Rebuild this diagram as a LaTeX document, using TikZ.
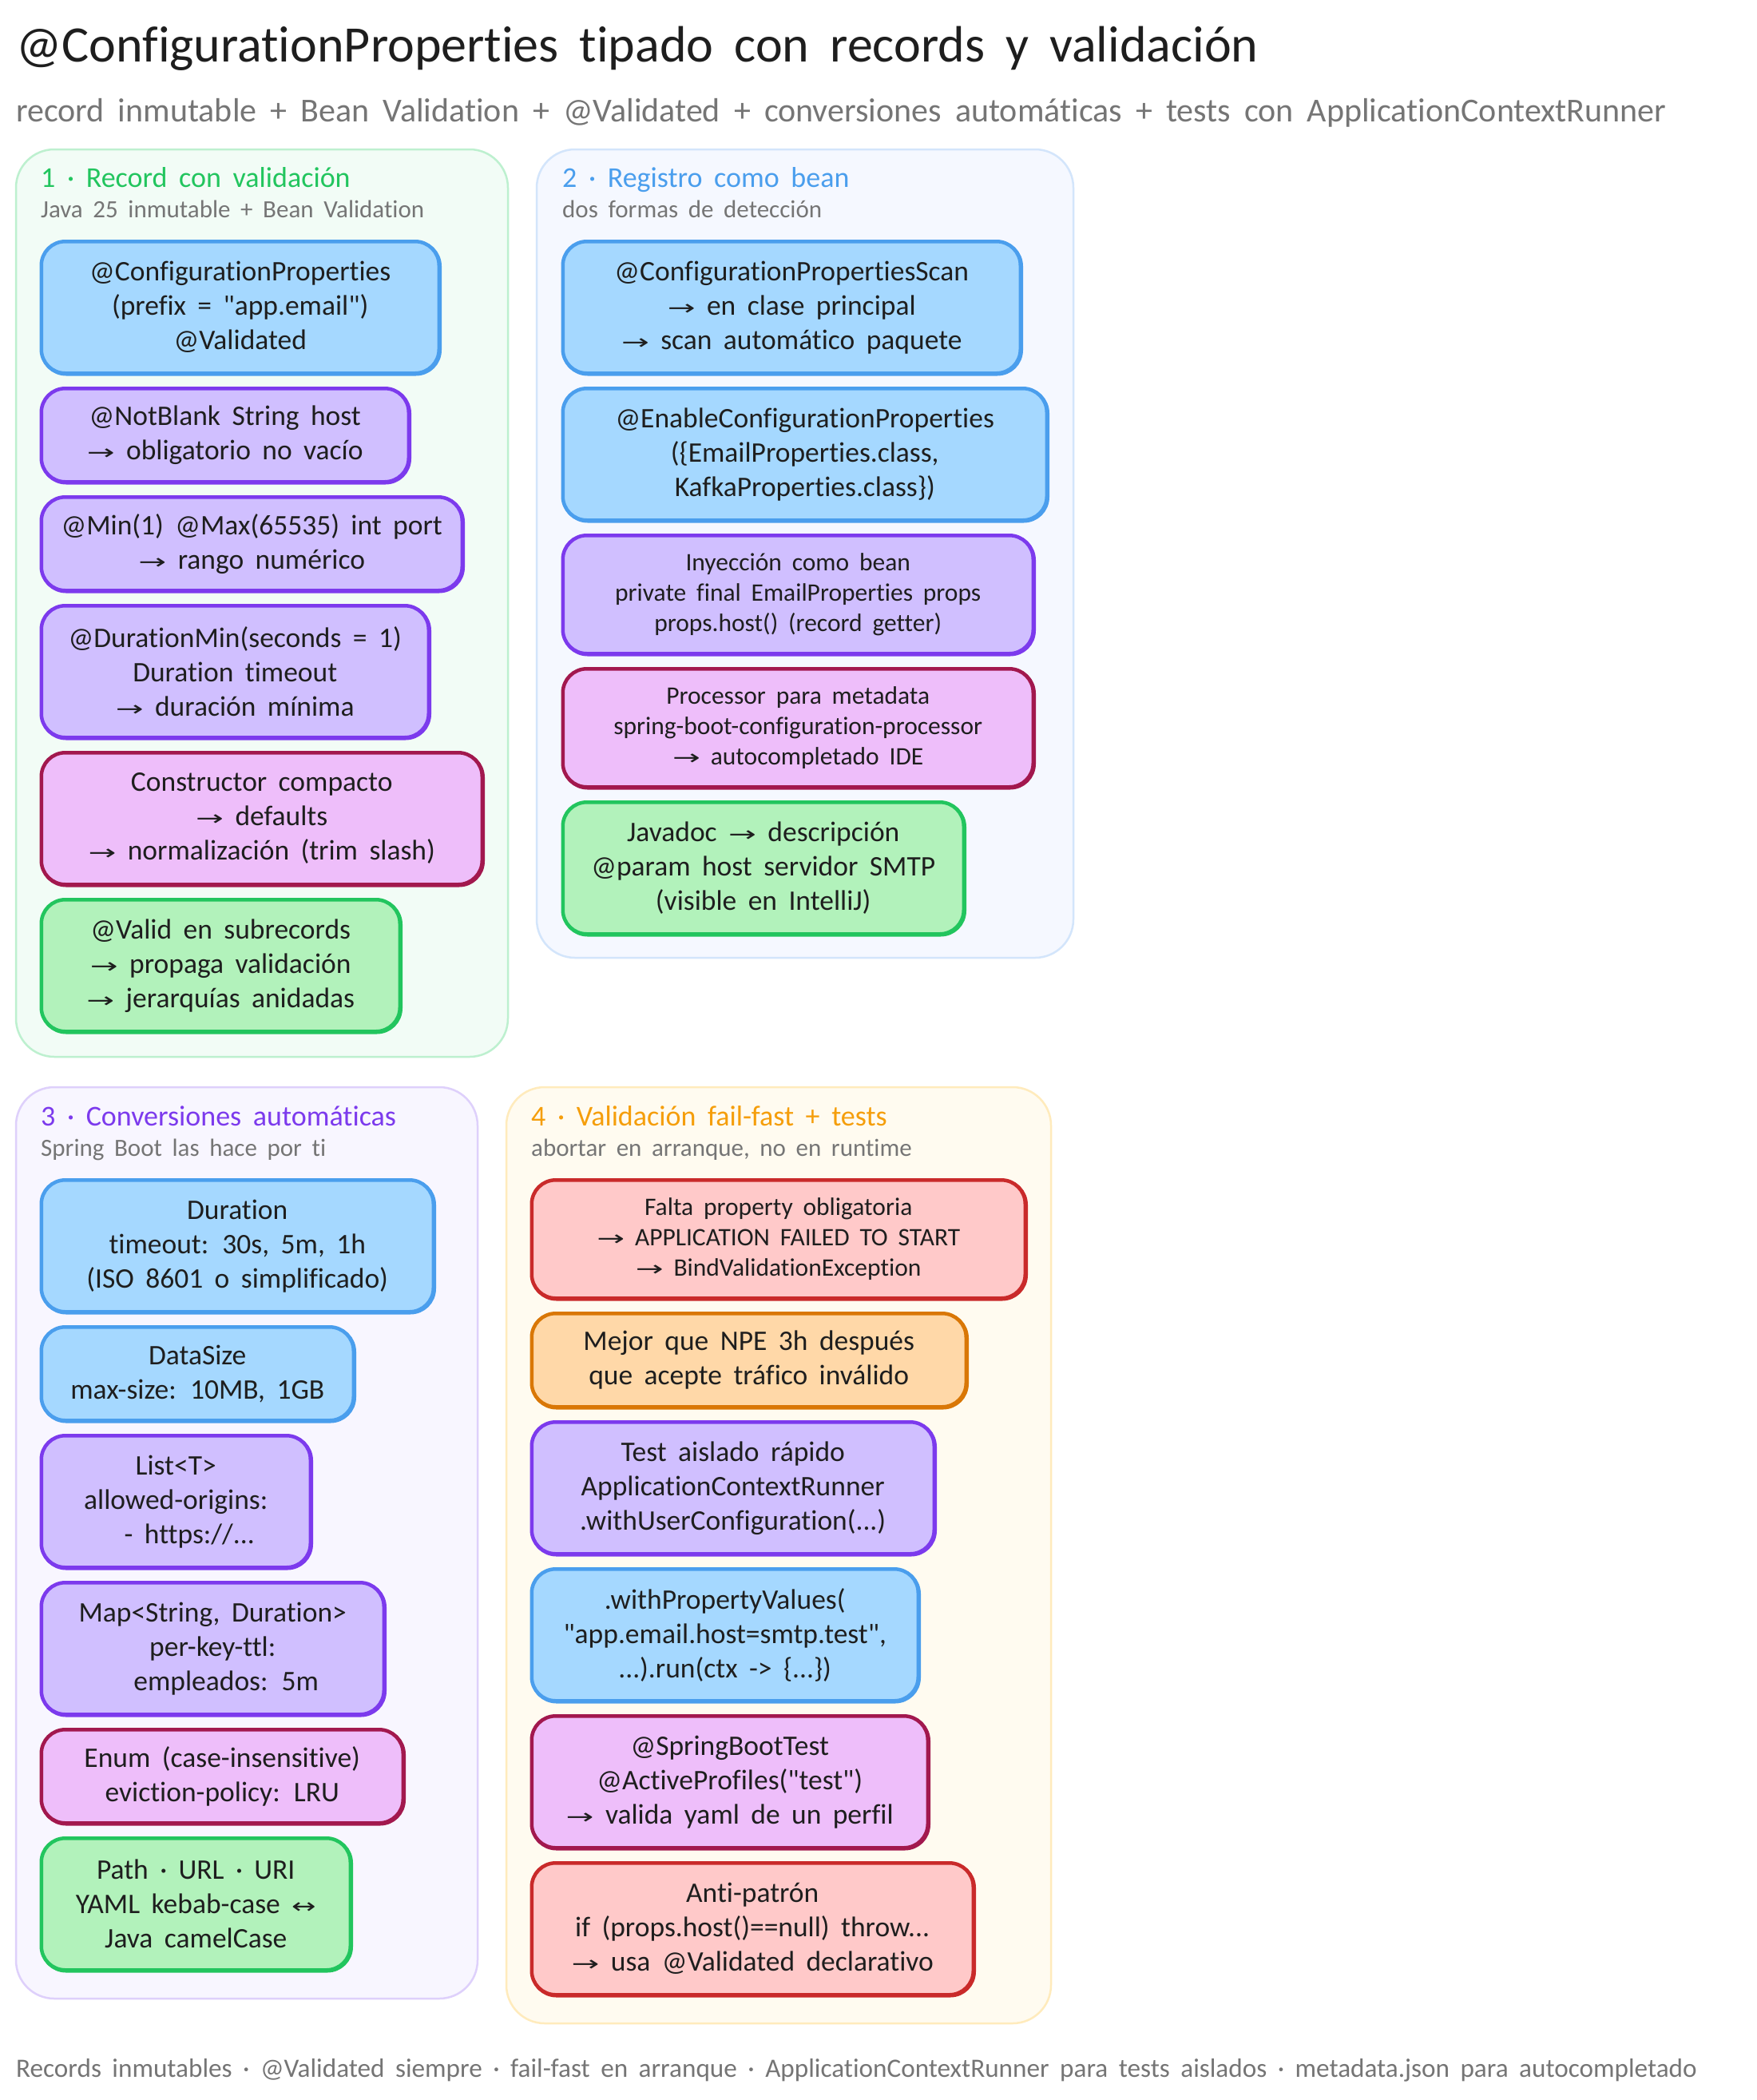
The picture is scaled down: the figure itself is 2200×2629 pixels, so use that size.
\documentclass[tikz,border=0pt]{standalone}
\usepackage{fontspec}
\newfontfamily\handfont{Carlito}[Ligatures=NoCommon, WordSpace=1.8]
\newfontfamily\symfont{DejaVu Sans}
\newcommand{\ra}{\scalebox{1.6}[1]{\symfont\fontsize{26}{26}\selectfont →}}
\newcommand{\lr}{\scalebox{1.4}[1]{\symfont\fontsize{26}{26}\selectfont ↔}}
\usetikzlibrary{positioning}
\definecolor{inkcol}{HTML}{1E1E1E}
\definecolor{greycol}{HTML}{757575}
\definecolor{bluefill}{HTML}{A5D8FF}
\definecolor{bluedraw}{HTML}{4A9EED}
\definecolor{purplefill}{HTML}{D0BFFF}
\definecolor{purpledraw}{HTML}{7C3AED}
\definecolor{pinkfill}{HTML}{EEBEFA}
\definecolor{pinkdraw}{HTML}{A2184E}
\definecolor{greenfill}{HTML}{B2F2BB}
\definecolor{greendraw}{HTML}{22C55E}
\definecolor{redfill}{HTML}{FFC9C9}
\definecolor{reddraw}{HTML}{C92A2A}
\definecolor{orangefill}{HTML}{FFD8A8}
\definecolor{orangedraw}{HTML}{D97706}
\definecolor{amber}{HTML}{F59E0B}
\definecolor{amberfill}{HTML}{FFFBF0}
\definecolor{amberline}{HTML}{FFEBBC}
\definecolor{skyfill}{HTML}{F5F8FF}
\definecolor{skyline}{HTML}{D3E5FB}
\definecolor{mintfill}{HTML}{F2FCF6}
\definecolor{mintline}{HTML}{BDF0CF}
\definecolor{lilacfill}{HTML}{F8F6FF}
\definecolor{lilacline}{HTML}{DED0FB}
\tikzstyle{panel} = [rectangle, draw, rounded corners=48pt, line width=2.5pt, anchor=north west, inner sep=0pt, outer sep=0pt]
\tikzstyle{card} = [rectangle, rounded corners=30pt, line width=4.5pt, anchor=north west, align=center, inner sep=0pt, outer sep=2.25pt, text=inkcol, font=\handfont\fontsize{35.5}{43}\selectfont, minimum height=165pt, preaction={draw, transform canvas={xshift=1pt, yshift=-1pt}}, draw]
\tikzstyle{bluecard} = [card, fill=bluefill, draw=bluedraw]
\tikzstyle{purplecard} = [card, fill=purplefill, draw=purpledraw]
\tikzstyle{pinkcard} = [card, fill=pinkfill, draw=pinkdraw]
\tikzstyle{greencard} = [card, fill=greenfill, draw=greendraw]
\tikzstyle{redcard} = [card, fill=redfill, draw=reddraw]
\tikzstyle{orangecard} = [card, fill=orangefill, draw=orangedraw]
\tikzstyle{twolines} = [minimum height=117pt]
\tikzstyle{dense} = [minimum height=148pt, font=\handfont\fontsize{31.5}{38}\selectfont]
\tikzstyle{heading} = [anchor=base west, inner sep=0pt, font=\handfont\fontsize{36}{40}\selectfont]
\tikzstyle{subheading} = [anchor=base west, inner sep=0pt, text=greycol, font=\handfont\fontsize{31}{36}\selectfont]

\begin{document}
\begin{tikzpicture}[x=1pt, y=-1pt]
    \useasboundingbox (0,0) rectangle (2200,2629);
    \fill [white] (0,0) rectangle (2200,2629);

    % Titles
    \node [heading, text=inkcol, font=\handfont\fontsize{64}{70}\selectfont] (title) at (20,77) {@ConfigurationProperties tipado con records y validación};
    \node [subheading, font=\handfont\fontsize{42}{50}\selectfont] (subtitle) at (20,152) {record inmutable + Bean Validation + @Validated + conversiones automáticas + tests con ApplicationContextRunner};
    \node [subheading, font=\handfont\fontsize{33.2}{40}\selectfont] (footer) at (20,2600) {Records inmutables · @Validated siempre · fail-fast en arranque · ApplicationContextRunner para tests aislados · metadata.json para autocompletado};

    % Panels
    \node [panel, draw=mintline, fill=mintfill, minimum width=616pt, minimum height=1136pt] (recordpanel) at (20,187) {};
    \node [panel, draw=skyline, fill=skyfill, minimum width=672pt, minimum height=1012pt] (beanpanel) at (672,187) {};
    \node [panel, draw=lilacline, fill=lilacfill, minimum width=578pt, minimum height=1141pt] (convpanel) at (20,1361) {};
    \node [panel, draw=amberline, fill=amberfill, minimum width=682pt, minimum height=1172pt] (failpanel) at (634,1361) {};

    % Headings
    \node [heading, text=greendraw] (recordhead) at (51,234) {1 · Record con validación};
    \node [subheading] (recordsub) at (51,272) {Java 25 inmutable + Bean Validation};
    \node [heading, text=bluedraw] (beanhead) at (704,234) {2 · Registro como bean};
    \node [subheading] (beansub) at (704,272) {dos formas de detección};
    \node [heading, text=purpledraw] (convhead) at (51,1409) {3 · Conversiones automáticas};
    \node [subheading] (convsub) at (51,1447) {Spring Boot las hace por ti};
    \node [heading, text=amber] (failhead) at (665,1409) {4 · Validación fail-fast + tests};
    \node [subheading] (failsub) at (665,1447) {abortar en arranque, no en runtime};

    % Panel 1
    \node [bluecard, minimum width=498pt] (props) at (49.5,300) {@ConfigurationProperties\\(prefix = "app.email")\\@Validated};
    \node [purplecard, twolines, minimum width=460pt, below=14.5pt of props.south west, anchor=north west] (notblank) {@NotBlank String host\\\ra{} obligatorio no vacío};
    \node [purplecard, twolines, minimum width=527pt, below=14.5pt of notblank.south west, anchor=north west] (minmax) {@Min(1) @Max(65535) int port\\\ra{} rango numérico};
    \node [purplecard, minimum width=485pt, below=14.5pt of minmax.south west, anchor=north west] (durmin) {@DurationMin(seconds = 1)\\Duration timeout\\\ra{} duración mínima};
    \node [pinkcard, minimum width=552pt, below=14.5pt of durmin.south west, anchor=north west] (compact) {Constructor compacto\\\ra{} defaults\\\ra{} normalización (trim slash)};
    \node [greencard, minimum width=449pt, below=14.5pt of compact.south west, anchor=north west] (valid) {@Valid en subrecords\\\ra{} propaga validación\\\ra{} jerarquías anidadas};

    % Panel 2
    \node [bluecard, minimum width=573pt] (scan) at (702.5,300) {@ConfigurationPropertiesScan\\\ra{} en clase principal\\\ra{} scan automático paquete};
    \node [bluecard, minimum width=606pt, below=14.5pt of scan.south west, anchor=north west] (enable) {@EnableConfigurationProperties\\(\{EmailProperties.class,\\KafkaProperties.class\})};
    \node [purplecard, dense, minimum width=589pt, below=14.5pt of enable.south west, anchor=north west] (inject) {Inyección como bean\\private final EmailProperties props\\props.host() (record getter)};
    \node [pinkcard, dense, minimum width=589pt, below=14.5pt of inject.south west, anchor=north west] (processor) {Processor para metadata\\spring-boot-configuration-processor\\\ra{} autocompletado IDE};
    \node [greencard, minimum width=502pt, below=14.5pt of processor.south west, anchor=north west] (javadoc) {Javadoc \ra{} descripción\\@param host servidor SMTP\\(visible en IntelliJ)};

    % Panel 3
    \node [bluecard, minimum width=491pt] (duration) at (49.5,1475) {Duration\\timeout: 30s, 5m, 1h\\(ISO 8601 o simplificado)};
    \node [bluecard, twolines, minimum width=391pt, below=14.5pt of duration.south west, anchor=north west] (datasize) {DataSize\\max-size: 10MB, 1GB};
    \node [purplecard, minimum width=337pt, below=14.5pt of datasize.south west, anchor=north west] (listcard) {List<T>\\allowed-origins:\\\hspace*{34pt}- https://...};
    \node [purplecard, minimum width=429pt, below=14.5pt of listcard.south west, anchor=north west] (mapcard) {Map<String, Duration>\\per-key-ttl:\hspace*{34pt}\\\hspace*{34pt}empleados: 5m};
    \node [pinkcard, twolines, minimum width=453pt, below=14.5pt of mapcard.south west, anchor=north west] (enumcard) {Enum (case-insensitive)\\eviction-policy: LRU};
    \node [greencard, minimum width=387pt, below=14.5pt of enumcard.south west, anchor=north west] (pathcard) {Path · URL · URI\\YAML kebab-case \lr\\Java camelCase};

    % Panel 4
    \node [redcard, dense, minimum width=618pt] (missing) at (663.5,1475) {Falta property obligatoria\\\ra{} APPLICATION FAILED TO START\\\ra{} BindValidationException};
    \node [orangecard, twolines, minimum width=544pt, below=14.5pt of missing.south west, anchor=north west] (better) {Mejor que NPE 3h después\\que acepte tráfico inválido};
    \node [purplecard, minimum width=504pt, below=14.5pt of better.south west, anchor=north west] (isolated) {Test aislado rápido\\ApplicationContextRunner\\.withUserConfiguration(...)};
    \node [bluecard, minimum width=484pt, below=14.5pt of isolated.south west, anchor=north west] (values) {.withPropertyValues(\\"app.email.host=smtp.test",\\...).run(ctx -> \{...\})};
    \node [pinkcard, minimum width=496pt, below=14.5pt of values.south west, anchor=north west] (boottest) {@SpringBootTest\\@ActiveProfiles("test")\\\ra{} valida yaml de un perfil};
    \node [redcard, minimum width=553pt, below=14.5pt of boottest.south west, anchor=north west] (antipattern) {Anti-patrón\\if (props.host()==null) throw...\\\ra{} usa @Validated declarativo};

\end{tikzpicture}
\end{document}
